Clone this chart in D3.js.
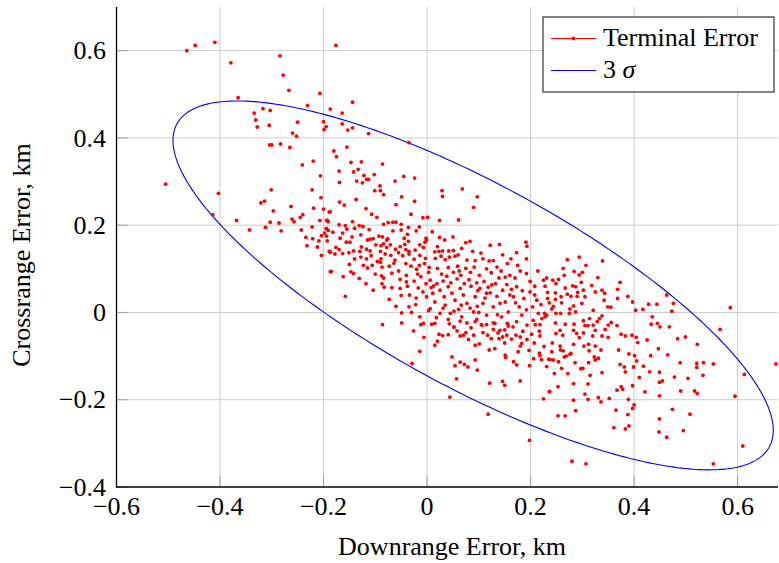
<!DOCTYPE html>
<html><head><meta charset="utf-8">
<script src="https://cdn.jsdelivr.net/npm/d3@7"></script>
<style>body{margin:0;background:#fff}svg{display:block}text{font-family:"Liberation Serif","Times New Roman",serif;fill:#000}</style>
</head><body><svg id="c" width="779" height="563" font-family="Liberation Serif"></svg>
<script>
// ---- data ----
const xTicks = [-0.6,-0.4,-0.2,0,0.2,0.4,0.6];
const yTicks = [-0.4,-0.2,0,0.2,0.4,0.6];
const xDomain = [-0.6, 0.678];
const yDomain = [-0.4, 0.7];
const legendLabels = ["Terminal Error", "3 σ"];
// 3-sigma ellipse: centre, sigmas, correlation
const ellipseCenter = [0.089, 0.062];
const ellipseSigma = [0.1933, 0.1409];
const ellipseRho = [-0.786];
// terminal error points [downrange km, crossrange km]
const terminalErrors = [
[-0.464,0.600],[-0.448,0.612],[-0.410,0.619],[-0.379,0.572],[-0.365,0.492],[-0.284,0.588],[-0.278,0.544],[-0.267,0.509],[-0.207,0.502],[-0.231,0.474],[-0.334,0.457],[-0.317,0.467],[-0.303,0.463],[-0.331,0.441],[-0.328,0.425],[-0.305,0.429],[-0.250,0.436],[-0.200,0.437],[-0.195,0.426],[-0.199,0.419],[-0.260,0.411],[-0.252,0.404],[-0.304,0.384],[-0.300,0.384],[-0.283,0.386],[-0.265,0.378],[-0.241,0.338],[-0.220,0.347],[-0.187,0.466],
[-0.176,0.612],[-0.144,0.482],[-0.164,0.457],[-0.164,0.432],[-0.153,0.418],[-0.144,0.423],[-0.113,0.410],[-0.035,0.389],[-0.180,0.370],[-0.175,0.357],[-0.155,0.379],[-0.147,0.344],[-0.127,0.345],[-0.086,0.340],[-0.133,0.328],
[-0.505,0.294],[-0.403,0.273],[-0.414,0.224],[-0.368,0.211],[-0.343,0.189],[-0.321,0.251],[-0.314,0.255],[-0.301,0.281],[-0.297,0.233],[-0.312,0.195],[-0.303,0.207],[-0.286,0.205],[-0.282,0.187],[-0.263,0.243],[-0.261,0.214],[-0.257,0.208],[-0.245,0.218],[-0.240,0.224],[-0.243,0.189],[-0.234,0.172],[-0.232,0.153],[-0.206,0.313],[-0.222,0.281],[-0.205,0.263],[-0.219,0.239],[-0.200,0.237],[-0.207,0.211],[-0.222,0.196],[-0.221,0.169],[-0.209,0.164],[-0.212,0.150],[-0.204,0.176],[-0.198,0.182],[-0.204,0.131],[-0.194,0.211],[-0.191,0.208],[-0.194,0.192],[-0.191,0.188],[-0.194,0.175],[-0.193,0.164],[-0.189,0.230],[-0.189,0.140],[-0.187,0.093],
[-0.170,0.324],[-0.142,0.322],[-0.122,0.314],[-0.117,0.305],[-0.113,0.305],[-0.102,0.316],[-0.169,0.298],[-0.136,0.301],[-0.125,0.297],[-0.091,0.290],[-0.101,0.279],[-0.090,0.279],[-0.084,0.270],[-0.062,0.301],[-0.045,0.312],[-0.024,0.308],[0.029,0.279],[0.030,0.266],[0.068,0.283],[0.097,0.265],[0.090,0.241],[-0.049,0.265],[-0.024,0.255],[-0.060,0.247],[-0.137,0.259],[-0.169,0.253],[-0.160,0.246],[-0.118,0.238],[-0.187,0.231],[-0.107,0.225],[-0.097,0.218],[-0.031,0.225],[-0.008,0.217],[0.001,0.218],[0.024,0.211],[0.061,0.212],[-0.193,0.211],[-0.144,0.208],[-0.170,0.201],[-0.158,0.199],[-0.131,0.199],[-0.124,0.197],[-0.084,0.202],[-0.075,0.206],[-0.066,0.207],[-0.060,0.207],[-0.050,0.202],[-0.066,0.187],[-0.050,0.189],[-0.015,0.196],[-0.195,0.192],[-0.182,0.184],[-0.163,0.182],[-0.155,0.191],[-0.140,0.193],[-0.145,0.173],[-0.093,0.175],[-0.076,0.169],[-0.038,0.179],[-0.021,0.187],[-0.002,0.170],[0.024,0.172],[0.034,0.166],[0.050,0.173],
[-0.168,0.170],[-0.115,0.166],[-0.110,0.168],[-0.104,0.169],[-0.086,0.173],[-0.078,0.166],[-0.044,0.170],[-0.036,0.163],[-0.001,0.166],[0.075,0.160],[0.083,0.163],[0.122,0.154],[0.140,0.156],[0.191,0.161],[0.193,0.152],[-0.156,0.161],[-0.149,0.161],[-0.127,0.150],[-0.099,0.155],[-0.089,0.153],[-0.084,0.157],[-0.071,0.155],[-0.043,0.156],[-0.014,0.155],[-0.004,0.161],[0.051,0.142],[0.067,0.147],[-0.176,0.149],[-0.170,0.144],[-0.142,0.141],[-0.117,0.145],[-0.110,0.141],[-0.090,0.140],[-0.078,0.149],[-0.061,0.145],[-0.041,0.144],[-0.035,0.140],[-0.023,0.143],[-0.007,0.149],[0.015,0.139],[0.023,0.140],[0.030,0.141],[0.042,0.141],
[-0.187,0.138],[-0.178,0.134],[-0.163,0.135],[-0.151,0.137],[-0.140,0.123],[-0.128,0.127],[-0.117,0.123],[-0.089,0.123],[-0.081,0.134],[-0.070,0.131],[-0.055,0.137],[-0.047,0.130],[-0.035,0.134],[-0.014,0.131],[-0.003,0.124],[0.016,0.124],[0.027,0.129],[0.035,0.121],[0.043,0.127],[0.054,0.129],[0.077,0.120],[0.093,0.119],[0.108,0.123],[0.120,0.118],[0.128,0.119],[0.162,0.123],[0.173,0.137],[0.192,0.123],
[-0.185,0.094],[-0.162,0.082],[-0.147,0.093],[-0.142,0.089],[-0.131,0.078],[-0.123,0.108],[-0.115,0.102],[-0.106,0.108],[-0.090,0.115],[-0.087,0.104],[-0.088,0.084],[-0.084,0.079],[-0.073,0.106],[-0.064,0.113],[-0.055,0.095],[-0.052,0.076],[-0.041,0.112],[-0.031,0.106],[-0.020,0.099],[-0.015,0.108],[-0.005,0.112],[0.004,0.103],[0.003,0.092],[0.020,0.101],[0.028,0.088],[0.041,0.103],[0.051,0.092],[0.059,0.106],[0.065,0.085],[0.075,0.101],[0.084,0.092],[0.091,0.104],[0.101,0.085],[0.115,0.100],[0.124,0.091],[0.135,0.104],[0.143,0.095],[0.151,0.081],[0.160,0.085],[0.170,0.079],[0.180,0.095],[0.192,0.089],[0.199,0.071],[0.214,0.095],[0.225,0.074],[0.231,0.079],
[-0.158,0.037],[-0.104,0.051],[-0.087,0.066],[-0.083,0.058],[-0.073,0.030],[-0.068,0.057],[-0.060,0.014],[-0.052,0.055],[-0.050,0.039],[-0.038,0.060],[-0.034,0.040],[-0.035,0.013],[-0.049,-0.001],[-0.030,0.000],[-0.021,0.033],[-0.017,0.056],[-0.008,0.047],[-0.002,0.066],[-0.001,0.036],[0.008,0.057],[0.011,0.044],[0.015,0.024],[0.019,0.066],[0.025,0.051],[0.033,0.036],[0.035,0.017],[0.041,0.059],[0.048,0.044],[0.054,0.028],[0.061,0.007],[0.064,0.055],[0.070,0.040],[0.077,0.021],[0.085,0.060],[0.090,0.001],[0.093,0.036],[0.102,0.055],[0.108,0.021],[0.115,0.044],[0.125,0.063],[0.128,0.013],[0.135,0.037],[0.146,0.051],[0.151,0.024],[0.157,0.001],[0.167,0.036],[0.173,0.059],[0.178,0.013],[0.187,0.032],[0.199,0.047],[0.204,0.013],[0.212,0.028],[0.215,-0.002],[0.222,-0.014],[0.231,-0.006],
[-0.049,-0.024],[-0.014,-0.010],[-0.007,-0.025],[0.006,0.009],[0.015,-0.025],[0.025,-0.002],[0.041,-0.016],[0.052,-0.033],[0.067,-0.010],[0.077,-0.024],[0.096,-0.016],[0.106,-0.029],[0.115,-0.006],[0.128,-0.024],[0.144,-0.010],[0.157,-0.031],[0.173,-0.021],[0.183,-0.006],[0.193,-0.029],[0.205,-0.018],[-0.086,-0.028],
[-0.026,-0.042],[-0.012,-0.028],[-0.006,-0.057],[0.009,-0.027],[0.023,-0.050],[0.020,-0.066],[0.015,-0.075],[0.030,-0.053],[0.041,-0.051],[0.043,-0.026],[0.052,-0.034],[0.064,-0.054],[0.070,-0.052],[0.075,-0.046],[0.080,-0.062],[0.090,-0.052],[0.093,-0.075],[0.101,-0.072],[0.064,-0.020],[0.093,-0.021],[0.105,-0.028],[0.115,-0.028],[0.117,-0.052],[0.120,-0.086],[0.128,-0.039],[0.131,-0.025],[0.131,-0.083],[0.137,-0.047],[0.141,-0.041],[0.139,-0.060],[0.146,-0.056],[0.150,-0.070],[0.154,-0.052],[0.151,-0.098],[0.152,-0.103],[0.155,-0.025],[0.166,-0.033],[0.167,-0.113],[0.173,-0.120],[0.172,-0.052],[0.180,-0.056],[0.180,-0.077],[0.183,-0.071],[0.185,-0.043],[0.180,-0.157],[0.197,-0.087],[0.198,-0.122],[0.202,-0.050],[0.207,-0.070],[0.209,-0.028],[0.218,-0.028],[0.217,-0.043],[0.218,-0.054],[0.217,-0.093],[0.218,-0.099],[0.221,-0.108],[0.235,-0.107],[0.237,-0.181],[0.225,-0.198],[0.146,-0.158],[0.150,-0.167],[0.121,-0.162],[0.097,-0.132],[0.093,-0.109],[0.079,-0.125],[0.072,-0.119],[0.064,-0.114],[0.054,-0.122],[0.048,-0.102],[0.057,-0.152],[-0.014,-0.089],[-0.029,-0.117],[0.044,-0.194],[0.118,-0.233],[0.198,-0.293],
[0.271,0.121],[0.294,0.127],[0.339,0.118],[0.307,0.108],[0.263,0.101],[0.284,0.094],[0.300,0.092],[0.294,0.086],[0.265,0.085],[0.243,0.074],[0.254,0.076],[0.249,0.066],[0.298,0.069],[0.228,0.060],[0.267,0.056],[0.281,0.061],[0.287,0.059],[0.302,0.051],[0.373,0.069],[0.368,0.053],[0.338,0.051],[0.325,0.047],[0.343,0.044],[0.233,0.046],[0.248,0.045],[0.291,0.046],[0.278,0.037],[0.290,0.037],[0.305,0.036],[0.259,0.036],[0.233,0.032],[0.248,0.030],[0.368,0.032],[0.342,0.028],[0.388,0.037],[0.463,0.040],[0.476,0.021],[0.444,0.019],[0.428,0.019],[0.397,0.024],[0.349,0.013],[0.321,0.005],[0.299,0.021],[0.283,0.015],[0.244,0.014],[0.241,0.008],[0.276,0.008],[0.287,0.001],[0.275,-0.002],[0.227,-0.002],[0.249,-0.002],[0.258,-0.002],[0.228,-0.010],[0.403,0.005],[0.417,0.007],[0.435,-0.010],[0.473,0.003],[0.586,0.011],[0.314,-0.014],[0.333,-0.014],[0.302,-0.019],[0.329,-0.021],[0.356,-0.023],[0.367,-0.030],[0.350,-0.029],[0.321,-0.029],[0.305,-0.030],[0.284,-0.027],[0.267,-0.027],[0.248,-0.024],[0.433,-0.027],[0.445,-0.025],[0.450,-0.033],[0.468,-0.033],
[0.257,-0.041],[0.283,-0.041],[0.302,-0.047],[0.325,-0.041],[0.344,-0.039],[0.249,-0.048],[0.262,-0.052],[0.289,-0.048],[0.320,-0.054],[0.338,-0.054],[0.350,-0.057],[0.375,-0.050],[0.383,-0.054],[0.396,-0.052],[0.404,-0.057],[0.484,-0.060],[0.499,-0.056],[0.566,-0.039],[0.425,-0.063],[0.407,-0.069],[0.242,-0.070],[0.257,-0.077],[0.283,-0.073],[0.303,-0.077],[0.312,-0.073],[0.325,-0.077],[0.258,-0.086],[0.263,-0.088],[0.278,-0.094],[0.313,-0.088],[0.336,-0.086],[0.370,-0.086],[0.447,-0.083],[0.522,-0.073],[0.238,-0.108],[0.244,-0.109],[0.254,-0.113],[0.265,-0.102],[0.269,-0.100],[0.276,-0.096],[0.323,-0.102],[0.331,-0.105],[0.325,-0.109],[0.312,-0.115],[0.390,-0.095],[0.401,-0.099],[0.405,-0.111],[0.432,-0.099],[0.465,-0.097],[0.489,-0.115],[0.521,-0.117],[0.521,-0.126],[0.534,-0.115],[0.553,-0.118],[0.674,-0.118],
[0.297,-0.129],[0.301,-0.128],[0.315,-0.144],[0.338,-0.138],[0.373,-0.119],[0.381,-0.125],[0.399,-0.125],[0.418,-0.123],[0.383,-0.136],[0.430,-0.136],[0.449,-0.137],[0.455,-0.157],[0.449,-0.160],[0.478,-0.148],[0.504,-0.151],[0.533,-0.144],[0.613,-0.142],[0.410,-0.149],[0.397,-0.168],[0.283,-0.163],[0.311,-0.164],[0.253,-0.170],[0.236,-0.182],[0.305,-0.187],[0.367,-0.178],[0.375,-0.170],[0.378,-0.176],[0.421,-0.182],[0.449,-0.191],[0.490,-0.180],[0.517,-0.180],[0.522,-0.186],[0.595,-0.192],[0.283,-0.201],[0.311,-0.199],[0.331,-0.195],[0.336,-0.205],[0.352,-0.197],[0.389,-0.199],[0.400,-0.212],[0.397,-0.220],[0.365,-0.224],[0.287,-0.225],[0.253,-0.237],[0.267,-0.237],[0.388,-0.234],[0.474,-0.222],[0.508,-0.233],[0.449,-0.244],[0.361,-0.264],[0.383,-0.267],[0.390,-0.260],[0.448,-0.274],[0.463,-0.286],[0.495,-0.271],[0.610,-0.306],[0.280,-0.341],[0.307,-0.347],[0.553,-0.347],
// additional dense-core points
[-0.012,0.082],[0.006,0.074],[0.013,0.061],[0.031,0.072],[0.046,0.068],[0.058,0.077],[0.072,0.066],[0.081,0.075],[0.096,0.068],[0.110,0.071],[0.118,0.058],[0.132,0.066],[0.139,0.079],[0.154,0.064],[0.163,0.053],[-0.025,0.072],[-0.040,0.085],[-0.018,0.088],[0.038,0.083],[0.062,0.095],[0.098,0.050],[0.112,0.033],[0.122,0.045],[0.141,0.021],[0.160,0.040],[0.171,0.022],[0.184,0.050],[0.192,0.006],[0.208,0.040],[0.220,0.018],[0.236,0.022],[0.066,0.017],[0.083,0.010],[0.097,0.014],[0.052,0.003],[0.031,0.010],[0.018,-0.012],[0.058,-0.042],[0.085,-0.035],[0.108,-0.046],[0.124,-0.060],[0.163,-0.061],[0.176,-0.090],[0.193,-0.062],[0.206,-0.106],[0.226,-0.078],[0.241,-0.090],[0.231,-0.124],[0.246,-0.140],[0.260,-0.128],[0.272,-0.140],[0.286,-0.115],[0.294,-0.058],[0.311,-0.030],[0.338,-0.008],[0.355,0.012],[0.260,0.022],[0.271,0.042],[0.318,0.062],[0.330,0.080],[0.208,0.060],[-0.108,0.130],[-0.096,0.117],[-0.062,0.120],[-0.052,0.151],[-0.025,0.122],[-0.130,0.140],[-0.150,0.110],[-0.128,0.178],[-0.112,0.190],[-0.036,0.195],[0.010,0.185],[0.020,0.151],[0.060,0.132],[0.088,0.140],[0.104,0.136],[0.146,0.132],[0.155,0.112],[0.175,0.108],[-0.068,0.090],[-0.100,0.088],[-0.118,0.066],[-0.040,0.070],[0.003,0.004],[-0.022,0.018],[0.045,-0.002],[0.136,-0.005],[0.150,-0.040],[0.100,0.000]
];

// ---- layout ----
const svg = d3.select("#c");
const L = 116.5, R = 778, T = 7, B = 487;
const FS = 26;
const x = d3.scaleLinear().domain(xDomain).range([L, R]);
const y = d3.scaleLinear().domain(yDomain).range([B, T]);
const fmt = d => d === 0 ? "0" : (d < 0 ? "\u2212" + Math.abs(d).toFixed(1) : d.toFixed(1));

// grid
const g = svg.append("g");
g.selectAll(".vg").data(xTicks.filter(d => d > xDomain[0])).join("line")
  .attr("x1", d => x(d)).attr("x2", d => x(d)).attr("y1", T).attr("y2", B)
  .attr("stroke", "#cccccc").attr("stroke-width", 1);
g.selectAll(".hg").data(yTicks.filter(d => d > yDomain[0])).join("line")
  .attr("y1", d => y(d)).attr("y2", d => y(d)).attr("x1", L).attr("x2", R)
  .attr("stroke", "#cccccc").attr("stroke-width", 1);

// tick marks (inside)
g.selectAll(".xt").data(xTicks).join("line")
  .attr("x1", d => x(d)).attr("x2", d => x(d)).attr("y1", B).attr("y2", B - 11)
  .attr("stroke", "#a0a0a0").attr("stroke-width", 1);
g.selectAll(".yt").data(yTicks).join("line")
  .attr("y1", d => y(d)).attr("y2", d => y(d)).attr("x1", L).attr("x2", L + 11)
  .attr("stroke", "#a0a0a0").attr("stroke-width", 1);

// ellipse (3 sigma)
const sx = ellipseSigma[0] * 3, sy = ellipseSigma[1] * 3, rho = ellipseRho[0];
const ell = d3.range(0, 361, 1).map(a => {
  const t = a * Math.PI / 180;
  return [ellipseCenter[0] + sx * Math.cos(t),
          ellipseCenter[1] + sy * (rho * Math.cos(t) + Math.sqrt(1 - rho * rho) * Math.sin(t))];
});
svg.append("path").datum(ell)
  .attr("d", d3.line().x(d => x(d[0])).y(d => y(d[1])))
  .attr("fill", "none").attr("stroke", "#0000ff").attr("stroke-width", 1.1);

// points
svg.append("g").selectAll("circle").data(terminalErrors).join("circle")
  .attr("cx", d => x(d[0])).attr("cy", d => y(d[1])).attr("r", 1.9)
  .attr("fill", "#ff0000");

// axes lines
svg.append("line").attr("x1", L).attr("x2", L).attr("y1", T).attr("y2", B + 0.5)
  .attr("stroke", "#000").attr("stroke-width", 1.3);
svg.append("line").attr("x1", L - 0.5).attr("x2", R).attr("y1", B).attr("y2", B)
  .attr("stroke", "#000").attr("stroke-width", 1.3);

// tick labels
svg.selectAll(".xl").data(xTicks).join("text")
  .attr("x", d => x(d)).attr("y", 514.5).attr("text-anchor", "middle")
  .attr("font-family", "Liberation Serif").attr("font-size", FS).text(fmt);
svg.selectAll(".yl").data(yTicks).join("text")
  .attr("x", 106).attr("y", d => y(d) + 8.7).attr("text-anchor", "end")
  .attr("font-family", "Liberation Serif").attr("font-size", FS).text(fmt);

// axis titles
svg.append("text").attr("x", 452).attr("y", 555).attr("text-anchor", "middle")
  .attr("font-family", "Liberation Serif").attr("font-size", FS).text("Downrange Error, km");
svg.append("text").attr("transform", "translate(30,255) rotate(-90)")
  .attr("text-anchor", "middle").attr("font-family", "Liberation Serif")
  .attr("font-size", FS).text("Crossrange Error, km");

// legend
const lg = svg.append("g");
lg.append("rect").attr("x", 543).attr("y", 17).attr("width", 231).attr("height", 75)
  .attr("fill", "#fff").attr("stroke", "#333").attr("stroke-width", 1.2);
lg.append("line").attr("x1", 551).attr("x2", 596).attr("y1", 38.5).attr("y2", 38.5)
  .attr("stroke", "#ff0000").attr("stroke-width", 1.1);
lg.append("circle").attr("cx", 573.5).attr("cy", 38.5).attr("r", 1.9).attr("fill", "#ff0000");
lg.append("line").attr("x1", 551).attr("x2", 596).attr("y1", 70.5).attr("y2", 70.5)
  .attr("stroke", "#0000ff").attr("stroke-width", 1.1);
lg.append("text").attr("x", 603).attr("y", 46).attr("font-family", "Liberation Serif")
  .attr("font-size", FS).text(legendLabels[0]);
const t2 = lg.append("text").attr("x", 603).attr("y", 78)
  .attr("font-family", "Liberation Serif").attr("font-size", FS);
const parts = legendLabels[1].split(" ");
t2.append("tspan").text(parts[0] + " ");
t2.append("tspan").attr("font-style", "italic").text(parts[1]);
</script></body></html>
